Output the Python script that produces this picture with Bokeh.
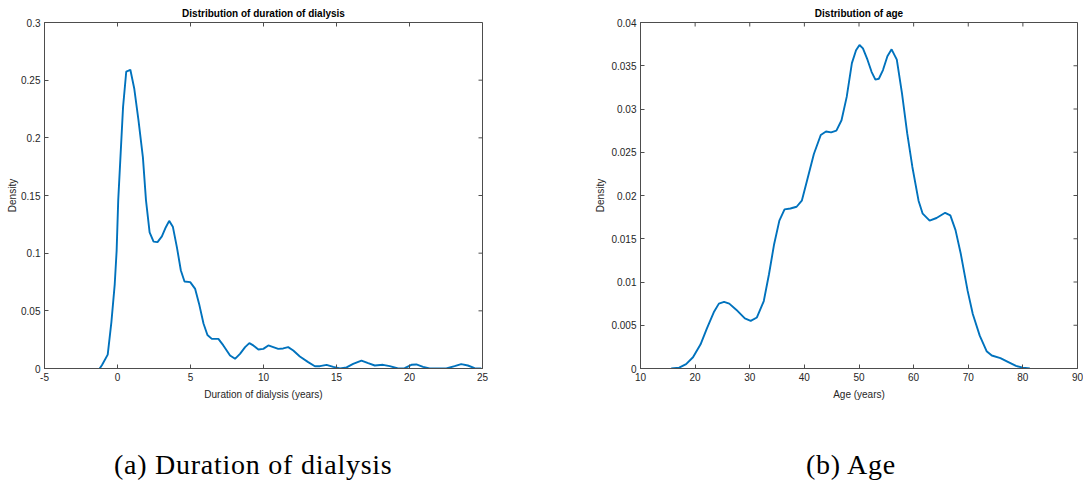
import math
from bokeh.plotting import figure
from bokeh.models import Range1d, FixedTicker, Div
from bokeh.layouts import row, column
from bokeh.embed import file_html
from bokeh.resources import INLINE

# ---- data: KDE of duration of dialysis (years) ----
dur_x = [-1.22, -1.06, -0.67, -0.42, -0.19, -0.06, 0.05, 0.38, 0.60, 0.88, 1.15, 1.44, 1.74,
         1.95, 2.2, 2.47, 2.74, 3.04, 3.31, 3.54, 3.79, 4.07, 4.34, 4.59, 4.98, 5.32, 5.59,
         5.89, 6.16, 6.46, 6.91, 7.25, 7.71, 8.05, 8.39, 8.74, 9.03, 9.30, 9.65, 9.99, 10.33,
         10.67, 11.01, 11.35, 11.69, 12.04, 12.49, 13.06, 13.52, 13.86, 14.32, 14.78, 15.24,
         15.69, 16.14, 16.71, 17.17, 17.62, 18.19, 18.65, 19.22, 19.67, 20.13, 20.47, 20.93,
         21.38, 22.52, 23.09, 23.54, 24.0, 24.46, 24.91]
dur_y = [0.0, 0.003, 0.012, 0.04, 0.073, 0.102, 0.146, 0.2266, 0.2575, 0.259, 0.2425, 0.215, 0.183,
         0.146, 0.118, 0.110, 0.1096, 0.1145, 0.1225, 0.128, 0.123, 0.105, 0.085, 0.0754, 0.0749,
         0.069, 0.056, 0.039, 0.029, 0.0257, 0.0257, 0.020, 0.0113, 0.0084, 0.0127, 0.0185, 0.022,
         0.020, 0.0165, 0.017, 0.020, 0.0185, 0.017, 0.0174, 0.0185, 0.0156, 0.0104, 0.0055, 0.002,
         0.002, 0.0032, 0.0014, 0.0, 0.001, 0.004, 0.0069, 0.0046, 0.0026, 0.0032, 0.002, 0.0,
         0.0003, 0.0032, 0.0035, 0.0014, 0.0, 0.0, 0.002, 0.0038, 0.0026, 0.0003, 0.0]

# ---- data: KDE of age (years) ----
age_x = [15.63, 17.08, 18.35, 19.61, 21.0, 22.14, 23.41, 24.35, 25.3, 26.25, 27.52, 29.1, 30.17,
         31.31, 32.57, 33.52, 34.47, 35.42, 36.37, 37.44, 38.58, 39.53, 40.48, 41.74, 43.0, 43.96,
         44.9, 45.86, 46.8, 47.75, 48.7, 49.46, 50.09, 50.72, 51.55, 52.3, 53.0, 53.63, 54.39,
         55.2, 55.97, 56.92, 57.87, 58.82, 59.77, 60.9, 61.66, 62.93, 64.19, 65.77, 66.72, 67.67,
         68.62, 69.88, 70.83, 72.1, 73.36, 74.31, 75.89, 77.16, 78.74, 80.0, 81.27]
age_y = [0.0, 0.0001, 0.0005, 0.0013, 0.0028, 0.0046, 0.0065, 0.0075, 0.0077, 0.0075, 0.0068,
         0.0058, 0.0055, 0.0059, 0.0078, 0.0109, 0.0144, 0.0171, 0.0184, 0.0185, 0.0187, 0.0194,
         0.0217, 0.0248, 0.0270, 0.0274, 0.0273, 0.0275, 0.0287, 0.0314, 0.0353, 0.0368, 0.0374,
         0.0370, 0.0357, 0.0343, 0.0334, 0.0335, 0.0345, 0.0361, 0.0369, 0.0357, 0.0318, 0.0272,
         0.0233, 0.0194, 0.0179, 0.0171, 0.0174, 0.0180, 0.0177, 0.0160, 0.0133, 0.0090, 0.0063,
         0.0038, 0.0020, 0.0015, 0.0012, 0.0008, 0.0003, 0.0001, 0.0]

# ---- ticks / labels ----
dur_xticks = [-5, 0, 5, 10, 15, 20, 25]
dur_xtick_labels = ["-5", "0", "5", "10", "15", "20", "25"]
dur_yticks = [0, 0.05, 0.1, 0.15, 0.2, 0.25, 0.3]
dur_ytick_labels = ["0", "0.05", "0.1", "0.15", "0.2", "0.25", "0.3"]
age_xticks = [10, 20, 30, 40, 50, 60, 70, 80, 90]
age_xtick_labels = ["10", "20", "30", "40", "50", "60", "70", "80", "90"]
age_yticks = [0, 0.005, 0.01, 0.015, 0.02, 0.025, 0.03, 0.035, 0.04]
age_ytick_labels = ["0", "0.005", "0.01", "0.015", "0.02", "0.025", "0.03", "0.035", "0.04"]

titles = ["Distribution of duration of dialysis", "Distribution of age"]
xlabels = ["Duration of dialysis (years)", "Age (years)"]
ylabel = "Density"
captions = ["(a) Duration of dialysis", "(b) Age"]

LINE = "#0072BD"
AX = "#4d4d4d"
TXT = "#262626"
FONT = "Liberation Sans"


def style_axis(ax, label_standoff):
    ax.axis_line_color = AX
    ax.axis_line_width = 1
    ax.major_tick_line_color = AX
    ax.major_tick_in = 4
    ax.major_tick_out = 0
    ax.minor_tick_line_color = None
    ax.major_label_text_font = FONT
    ax.major_label_text_color = TXT
    ax.major_label_text_font_size = "10px"
    ax.major_label_standoff = 4
    ax.axis_label_text_font = FONT
    ax.axis_label_text_font_style = "normal"
    ax.axis_label_text_color = TXT
    ax.axis_label_text_font_size = "10px"
    ax.axis_label_standoff = label_standoff


def make(xr, yr, xticks, xlabels_t, yticks, ylabels_t, title, xlabel, xs, ys,
         width, bl, br, ylab_standoff):
    p = figure(width=width, height=410, x_range=Range1d(*xr), y_range=Range1d(*yr),
               output_backend="svg", toolbar_location=None,
               min_border_left=bl, min_border_right=br, min_border_top=22,
               min_border_bottom=42)
    p.outline_line_color = AX
    p.outline_line_width = 1
    p.grid.visible = False
    p.background_fill_color = "white"
    p.border_fill_color = "white"
    p.title.text = title
    p.title.align = "center"
    p.title.text_font = FONT
    p.title.text_font_size = "10px"
    p.title.text_font_style = "bold"
    p.title.text_color = "black"
    p.title.standoff = 8

    p.xaxis.ticker = FixedTicker(ticks=xticks)
    p.yaxis.ticker = FixedTicker(ticks=yticks)
    p.xaxis.major_label_overrides = {t: l for t, l in zip(xticks, xlabels_t)}
    p.yaxis.major_label_overrides = {t: l for t, l in zip(yticks, ylabels_t)}
    p.xaxis.axis_label = xlabel
    p.yaxis.axis_label = ylabel
    style_axis(p.xaxis[0], 5)
    style_axis(p.yaxis[0], ylab_standoff)

    # inward tick marks on the top and right edges of the box
    p.ray(x=xticks, y=[yr[1]] * len(xticks), length=4, length_units="screen",
          angle=-math.pi / 2, line_color=AX, line_width=1)
    p.ray(x=[xr[1]] * len(yticks), y=yticks, length=4, length_units="screen",
          angle=math.pi, line_color=AX, line_width=1)

    p.line(xs, ys, line_color=LINE, line_width=1.9)
    return p


p1 = make((-5, 25), (0, 0.3), dur_xticks, dur_xtick_labels, dur_yticks, dur_ytick_labels,
          titles[0], xlabels[0], dur_x, dur_y, width=540, bl=44, br=58, ylab_standoff=0)
p2 = make((10, 90), (0, 0.04), age_xticks, age_xtick_labels, age_yticks, age_ytick_labels,
          titles[1], xlabels[1], age_x, age_y, width=543, bl=100, br=6, ylab_standoff=2)


def caption(text, width, pad_left):
    html = ('<div style="font-family: \'Liberation Serif\', serif; font-size: 28px; '
            'letter-spacing: 0.75px; color: black; white-space: nowrap; line-height: 32px; '
            'padding-left: %dpx; padding-top: 39px;">%s</div>' % (pad_left, text))
    return Div(text=html, width=width, height=70, margin=0)


c1 = caption(captions[0], 540, 114)
c2 = caption(captions[1], 543, 266)

layout = column(row(p1, p2), row(c1, c2))
open("out.html", "w").write(file_html(layout, INLINE))
